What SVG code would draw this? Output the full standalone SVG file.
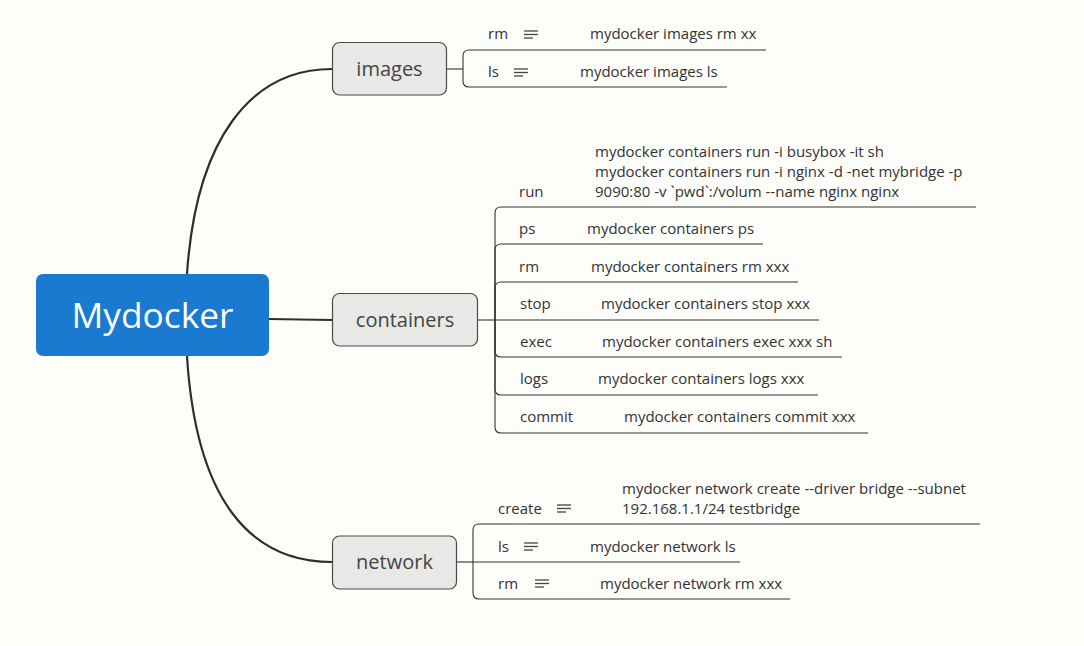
<svg xmlns="http://www.w3.org/2000/svg" width="1084" height="646" viewBox="0 0 1084 646">
<style>
.bg{fill:#fdfdfa}
.main{fill:none;stroke:#2e2e2e;stroke-width:2.2}
.ln{fill:none;stroke:#333;stroke-width:1.1}
.sub rect{fill:#e8e8e6;stroke:#4a4a4a;stroke-width:1.2}
.sub text{font-family:"Open Sans","Noto Sans",sans-serif;font-size:20px;fill:#444;text-anchor:middle}
.t{font-family:"Open Sans","Noto Sans",sans-serif;font-size:15px;fill:#333}
.ic{stroke:#444;stroke-width:1.3}
</style>
<rect class="bg" width="1084" height="646"/>
<defs>
<g id="note"><line class="ic" x1="0" y1="0" x2="14" y2="0"/><line class="ic" x1="0" y1="3.5" x2="14" y2="3.5"/><line class="ic" x1="0" y1="7" x2="9" y2="7"/></g>
</defs>
<g id="connectors">
<path class="main" d="M187,274 C196,140 250,69 332,69"/>
<path class="main" d="M269,319 L332,320"/>
<path class="main" d="M187,356 C196,500 250,562 332,562"/>
<!-- images -->
<path class="ln" d="M447,69 H463"/>
<path class="ln" d="M463,69 V56 Q463,50 469,50 H766"/>
<path class="ln" d="M463,69 V81 Q463,87 469,87 H727"/>
<!-- containers -->
<path class="ln" d="M478,320 H495"/>
<path class="ln" d="M495,320 V213 Q495,207 501,207 H976"/>
<path class="ln" d="M495,320 V250 Q495,244 501,244 H763"/>
<path class="ln" d="M495,320 V288 Q495,282 501,282 H798"/>
<path class="ln" d="M495,320 H819"/>
<path class="ln" d="M495,320 V351 Q495,357 501,357 H842"/>
<path class="ln" d="M495,320 V389 Q495,395 501,395 H818"/>
<path class="ln" d="M495,320 V427 Q495,433 501,433 H868"/>
<!-- network -->
<path class="ln" d="M457,562 H473"/>
<path class="ln" d="M473,562 V530 Q473,524 479,524 H980"/>
<path class="ln" d="M473,562 H740"/>
<path class="ln" d="M473,562 V593 Q473,599 479,599 H790"/>
</g>
<g id="root">
<rect x="36" y="274" width="233" height="82" rx="7" fill="#1a7ad0"/>
<text x="152.5" y="327.5" font-family="'Open Sans','Noto Sans',sans-serif" font-size="35.3" fill="#fff" text-anchor="middle">Mydocker</text>
</g>
<g id="images" class="sub">
<rect x="332.5" y="42.5" width="114" height="52.5" rx="7"/>
<text x="389.5" y="76">images</text>
</g>
<g id="containers" class="sub">
<rect x="332.5" y="293.5" width="145" height="52.5" rx="7"/>
<text x="405" y="327">containers</text>
</g>
<g id="network" class="sub">
<rect x="332.5" y="536" width="124" height="53" rx="7"/>
<text x="394.5" y="569">network</text>
</g>
<g id="images-rm">
<text class="t" x="488" y="38.5">rm</text>
<use href="#note" x="524" y="31"/>
<text class="t" x="590" y="38.5">mydocker images rm xx</text>
</g>
<g id="images-ls">
<text class="t" x="488" y="76.5">ls</text>
<use href="#note" x="514" y="69"/>
<text class="t" x="580" y="76.5">mydocker images ls</text>
</g>
<g id="c-run">
<text class="t" x="519" y="196.5">run</text>
<text class="t" x="595" y="156.5">mydocker containers run -i busybox -it sh</text>
<text class="t" x="595" y="176.5">mydocker containers run -i nginx -d -net mybridge -p</text>
<text class="t" x="595" y="196.5">9090:80 -v `pwd`:/volum --name nginx nginx</text>
</g>
<g id="c-ps">
<text class="t" x="519" y="233.5">ps</text>
<text class="t" x="587" y="233.5">mydocker containers ps</text>
</g>
<g id="c-rm">
<text class="t" x="519" y="272">rm</text>
<text class="t" x="591" y="272">mydocker containers rm xxx</text>
</g>
<g id="c-stop">
<text class="t" x="520" y="309">stop</text>
<text class="t" x="601" y="309">mydocker containers stop xxx</text>
</g>
<g id="c-exec">
<text class="t" x="520" y="346.5">exec</text>
<text class="t" x="602" y="346.5">mydocker containers exec xxx sh</text>
</g>
<g id="c-logs">
<text class="t" x="520" y="384">logs</text>
<text class="t" x="598" y="384">mydocker containers logs xxx</text>
</g>
<g id="c-commit">
<text class="t" x="520" y="422">commit</text>
<text class="t" x="624" y="422">mydocker containers commit xxx</text>
</g>
<g id="n-create">
<text class="t" x="498" y="513.5">create</text>
<use href="#note" x="557" y="505"/>
<text class="t" x="622" y="493.5">mydocker network create --driver bridge --subnet</text>
<text class="t" x="622" y="513.5">192.168.1.1/24 testbridge</text>
</g>
<g id="n-ls">
<text class="t" x="498" y="551.5">ls</text>
<use href="#note" x="524" y="543"/>
<text class="t" x="590" y="551.5">mydocker network ls</text>
</g>
<g id="n-rm">
<text class="t" x="498" y="588.5">rm</text>
<use href="#note" x="535" y="580"/>
<text class="t" x="600" y="588.5">mydocker network rm xxx</text>
</g>
</svg>
